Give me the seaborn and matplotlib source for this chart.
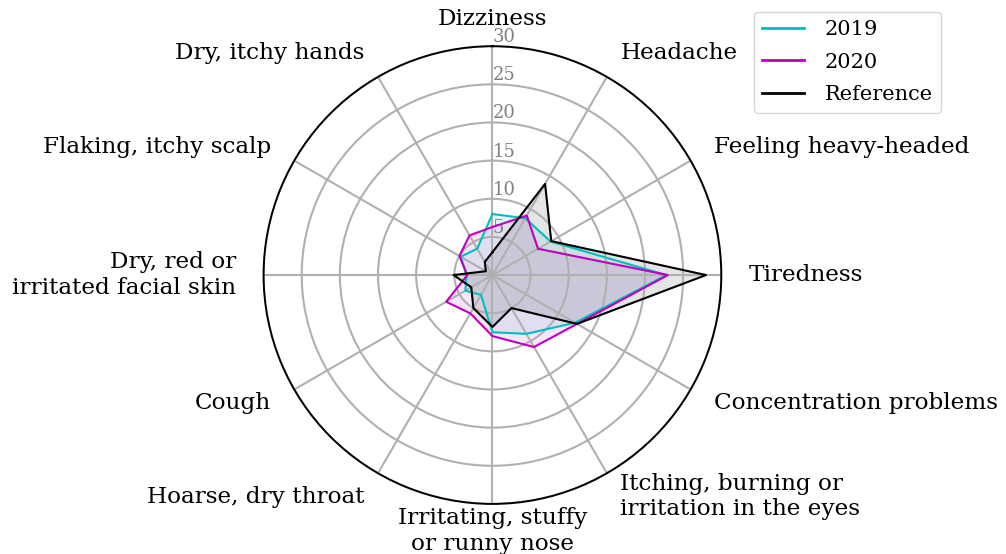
import numpy as np
import pandas as pd
import seaborn as sns
import matplotlib.pyplot as plt

# Symptom categories (clockwise from the top)
categories = [
    'Dizziness', 'Headache', 'Feeling heavy-headed', 'Tiredness',
    'Concentration problems', 'Itching, burning or\nirritation in the eyes',
    'Irritating, stuffy\nor runny nose', 'Hoarse, dry throat', 'Cough',
    'Dry, red or\nirritated facial skin', 'Flaking, itchy scalp', 'Dry, itchy hands',
]

# Values
values_2019 = [8.0, 8.6, 8.8, 22.8, 12.5, 8.9, 7.5, 3.0, 4.1, 3.4, 4.8, 4.0]
values_2020 = [6.3, 9.0, 6.9, 23.0, 12.8, 10.9, 8.0, 5.8, 7.0, 3.3, 5.0, 6.0]
values_ref = [3.0, 13.8, 8.9, 28.0, 12.8, 5.0, 6.8, 5.0, 3.2, 5.1, 1.0, 2.0]

series_names = ['2019', '2020', 'Reference']
series_values = [values_2019, values_2020, values_ref]
colors = {'2019': 'c', '2020': 'm', 'Reference': 'k'}

r_ticks = [5, 10, 15, 20, 25, 30]

plt.rcParams['font.family'] = 'DejaVu Serif'
plt.rcParams['grid.color'] = '#b0b0b0'
plt.rcParams['grid.linewidth'] = 1.5

# Angles, closing the loop
n = len(categories)
angles = np.linspace(0, 2 * np.pi, n, endpoint=False)
angles_closed = np.append(angles, angles[0] + 2 * np.pi)

rows = []
for name, vals in zip(series_names, series_values):
    vals_closed = list(vals) + [vals[0]]
    for a, v in zip(angles_closed, vals_closed):
        rows.append({'theta': a, 'value': v, 'Series': name})
df = pd.DataFrame(rows)

fig = plt.figure(figsize=(10.06, 5.54), dpi=100)
ax = fig.add_axes([0.262, 0.090, 0.455, 0.827], polar=True)
ax.set_theta_offset(np.pi / 2)
ax.set_theta_direction(-1)

sns.lineplot(data=df, x='theta', y='value', hue='Series', palette=colors,
             sort=False, estimator=None, linewidth=1.5, ax=ax)
for name in series_names:
    sub = df[df['Series'] == name]
    ax.fill(sub['theta'], sub['value'], color=colors[name], alpha=0.1)

ax.set_ylim(0, 30)
ax.set_yticks(r_ticks)
ax.set_yticklabels([str(t) for t in r_ticks], color='grey', fontsize=13)
ax.set_rlabel_position(0)

ax.set_xticks(angles)
ax.set_xticklabels(categories, fontsize=16.7)
ax.tick_params(axis='x', pad=9)
for label, angle in zip(ax.get_xticklabels(), angles):
    if np.isclose(angle, 0) or np.isclose(angle, np.pi):
        label.set_horizontalalignment('center')
    elif 0 < angle < np.pi:
        label.set_horizontalalignment('left')
    else:
        label.set_horizontalalignment('right')

ax.set_xlabel('')
ax.set_ylabel('')
ax.grid(True)
ax.spines['polar'].set_color('black')
ax.spines['polar'].set_linewidth(1.4)

leg = ax.legend(loc='upper right', bbox_to_anchor=(1.48, 1.075), fontsize=15,
                borderaxespad=0, labelspacing=0.65, borderpad=0.4,
                handletextpad=1.0)
for line in leg.get_lines():
    line.set_linewidth(2)

plt.savefig('out.png', dpi=100)
